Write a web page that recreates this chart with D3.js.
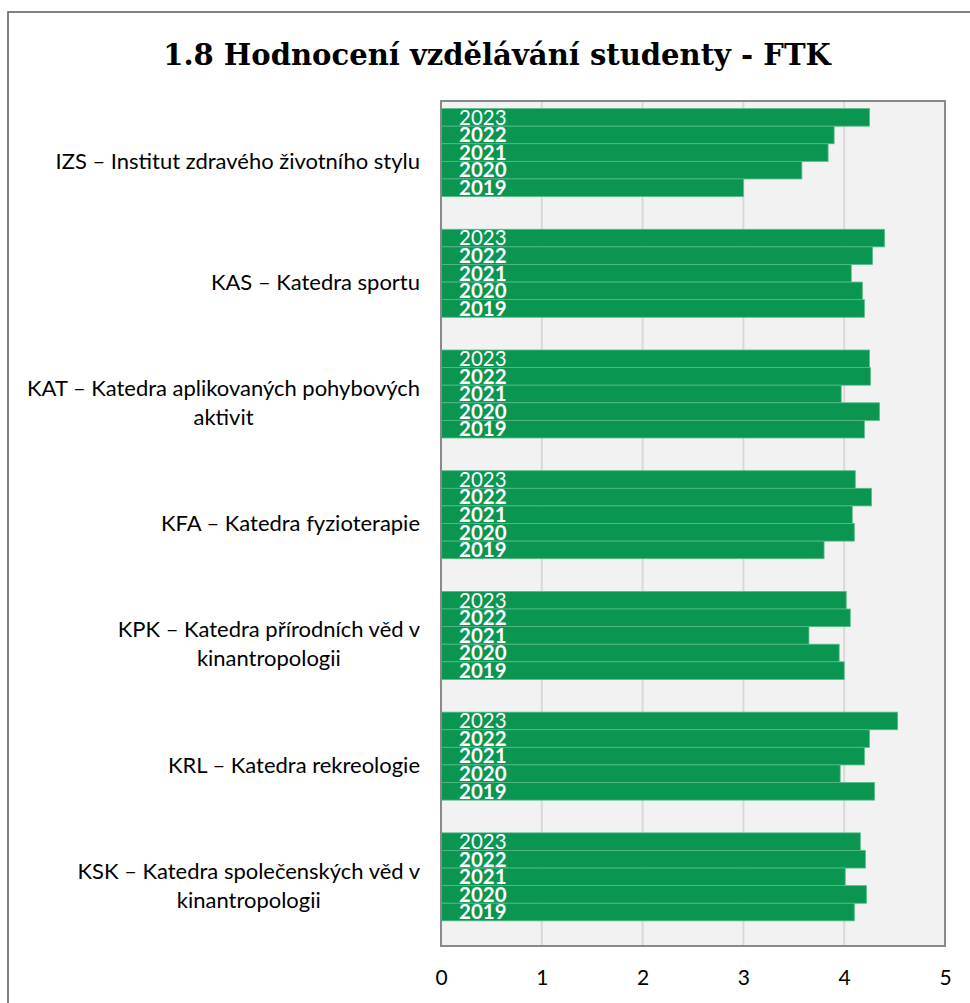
<!DOCTYPE html>
<html>
<head>
<meta charset="utf-8">
<script src="https://cdn.jsdelivr.net/npm/d3@7"></script>
<style>
  html, body { margin: 0; padding: 0; background: #ffffff; }
  svg { display: block; }
</style>
</head>
<body>
<svg id="chart" width="970" height="1003"></svg>
<script>
// ---- DATA ----
const title = "1.8 Hodnocení vzdělávání studenty - FTK";
const categories = [
  "IZS – Institut zdravého životního stylu",
  "KAS – Katedra sportu",
  "KAT – Katedra aplikovaných pohybových aktivit",
  "KFA – Katedra fyzioterapie",
  "KPK – Katedra přírodních věd v kinantropologii",
  "KRL – Katedra rekreologie",
  "KSK – Katedra společenských věd v kinantropologii"
];
const years = ["2023", "2022", "2021", "2020", "2019"];
const v2023 = [4.25, 4.40, 4.25, 4.11, 4.02, 4.53, 4.16];
const v2022 = [3.90, 4.28, 4.26, 4.27, 4.06, 4.25, 4.21];
const v2021 = [3.84, 4.07, 3.97, 4.08, 3.65, 4.20, 4.01];
const v2020 = [3.58, 4.18, 4.35, 4.10, 3.95, 3.96, 4.22];
const v2019 = [3.00, 4.20, 4.20, 3.80, 4.00, 4.30, 4.10];
const xTicks = [0, 1, 2, 3, 4, 5];

const seriesValues = { "2023": v2023, "2022": v2022, "2021": v2021, "2020": v2020, "2019": v2019 };

// ---- LAYOUT ----
const svg = d3.select("#chart");
const plot = { left: 441, right: 945, top: 101, bottom: 946 };
const green = "#0a9551";

// outer border
svg.append("rect")
  .attr("x", 8).attr("y", 12)
  .attr("width", 1000).attr("height", 1100)
  .attr("fill", "#ffffff")
  .attr("stroke", "#595959").attr("stroke-width", 1.5);

// title
const titleText = svg.append("text")
  .attr("x", 497).attr("y", 65)
  .attr("text-anchor", "middle")
  .attr("font-family", "'DejaVu Serif', serif")
  .attr("font-weight", "bold")
  .attr("font-size", 30)
  .attr("fill", "#000")
  .text(title);
const tw = titleText.node().getComputedTextLength();
titleText.attr("font-size", 30 * 668 / tw);

const x = d3.scaleLinear().domain([0, 5]).range([plot.left, plot.right]);
const y = d3.scaleBand().domain(categories).range([plot.top, plot.bottom]).padding(0);
const slots = years.concat(["_empty"]);
const ySub = d3.scaleBand().domain(slots).range([0, y.bandwidth()]).paddingInner(0).paddingOuter(0.43);

// plot background
svg.append("rect")
  .attr("x", plot.left).attr("y", plot.top)
  .attr("width", plot.right - plot.left).attr("height", plot.bottom - plot.top)
  .attr("fill", "#f2f2f2");

// gridlines
svg.append("g")
  .selectAll("line")
  .data(xTicks.slice(1, -1))
  .join("line")
  .attr("x1", d => x(d)).attr("x2", d => x(d))
  .attr("y1", plot.top).attr("y2", plot.bottom)
  .attr("stroke", "#d9d9d9").attr("stroke-width", 2);

// bars
const barData = [];
categories.forEach((c, i) => {
  years.forEach(yr => barData.push({ cat: c, year: yr, value: seriesValues[yr][i] }));
});

const gBars = svg.append("g");
gBars.selectAll("rect")
  .data(barData)
  .join("rect")
  .attr("x", x(0))
  .attr("y", d => y(d.cat) + ySub(d.year))
  .attr("width", d => x(d.value) - x(0))
  .attr("height", ySub.bandwidth())
  .attr("fill", green)
  .attr("stroke", "#56bb88").attr("stroke-width", 0.8);

// year labels inside bars
gBars.selectAll("text")
  .data(barData)
  .join("text")
  .attr("x", x(0) + 18)
  .attr("y", d => y(d.cat) + ySub(d.year) + ySub.bandwidth() - 1.5)
  .attr("font-family", "Lato, 'Open Sans', sans-serif")
  .attr("font-size", 20.5)
  .attr("font-weight", d => d.year === "2023" ? "normal" : "bold")
  .attr("fill", "#ffffff")
  .text(d => d.year);

// plot border
svg.append("rect")
  .attr("x", plot.left).attr("y", plot.top)
  .attr("width", plot.right - plot.left).attr("height", plot.bottom - plot.top)
  .attr("fill", "none")
  .attr("stroke", "#898989").attr("stroke-width", 2);

// x axis labels
const xAxis = d3.axisBottom(x).tickValues(xTicks).tickSize(0).tickPadding(0).tickFormat(d3.format("d"));
const gx = svg.append("g").attr("transform", `translate(0, 970)`).call(xAxis);
gx.select(".domain").remove();
gx.selectAll("text")
  .attr("font-family", "Lato, 'Open Sans', sans-serif")
  .attr("font-size", 21)
  .attr("fill", "#000")
  .attr("dy", "0.72em");

// category labels (wrapped, centered block, right aligned at 420)
const labelFont = "Lato, 'Open Sans', sans-serif";
const probe = svg.append("text").attr("font-family", labelFont).attr("font-size", 20)
  .text("KAT – Katedra aplikovaných pohybových");
const labelSize = 20 * 393 / probe.node().getComputedTextLength();
probe.remove();
const maxW = 405;
const lineH = 29;
const gLab = svg.append("g");
categories.forEach(cat => {
  const t = gLab.append("text")
    .attr("font-family", labelFont)
    .attr("font-size", labelSize)
    .attr("fill", "#000");
  const words = cat.split(" ");
  const lines = [];
  let cur = "";
  words.forEach(w => {
    const test = cur ? cur + " " + w : w;
    t.text(test);
    if (t.node().getComputedTextLength() > maxW && cur) {
      lines.push(cur);
      cur = w;
    } else {
      cur = test;
    }
  });
  if (cur) lines.push(cur);
  t.text(null);
  const widths = lines.map(l => { t.text(l); return t.node().getComputedTextLength(); });
  t.text(null);
  const maxLine = d3.max(widths);
  const cx = 420 - maxLine / 2;
  const cy = y(cat) + y.bandwidth() / 2;
  const startY = cy - (lines.length - 1) * lineH / 2;
  t.attr("text-anchor", "middle");
  lines.forEach((l, k) => {
    t.append("tspan")
      .attr("x", cx)
      .attr("y", startY + k * lineH)
      .attr("dy", "0.35em")
      .text(l);
  });
});
</script>
</body>
</html>
